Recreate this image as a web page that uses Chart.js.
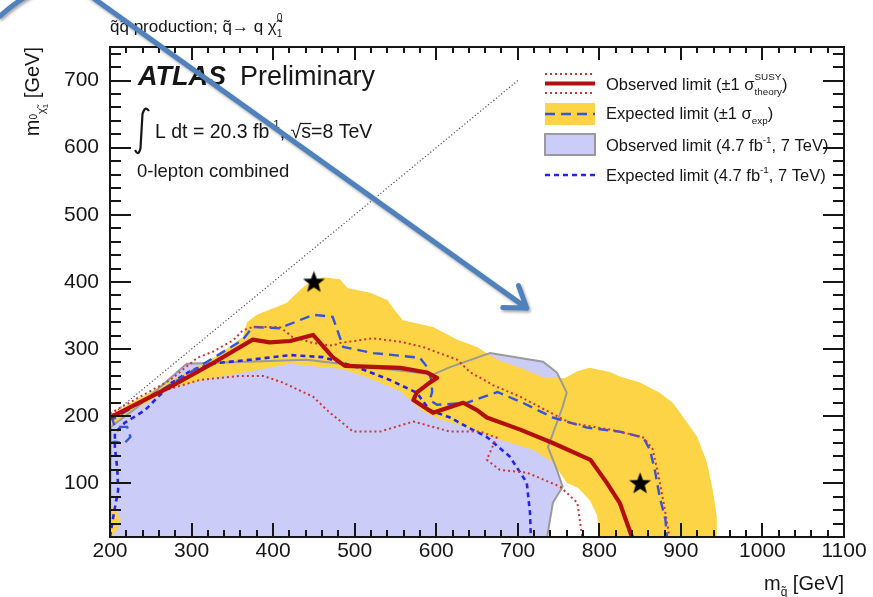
<!DOCTYPE html>
<html>
<head>
<meta charset="utf-8">
<script src="https://cdn.jsdelivr.net/npm/chart.js@4.4.0/dist/chart.umd.min.js"></script>
<style>
  html, body { margin: 0; padding: 0; background: #fff; }
  canvas { display: block; }
</style>
</head>
<body>
<canvas id="c" width="873" height="597"></canvas>
<script>
// Squark-pair production, q~ -> q chi0_1 : exclusion contours in the (m_squark, m_chi) plane, GeV.

// Axis ticks
const xTickVals = [200, 300, 400, 500, 600, 700, 800, 900, 1000, 1100];
const yTickVals = [100, 200, 300, 400, 500, 600, 700];
const xMinorStep = 20;
const yMinorStep = 20;

// Observed limit, 4.7 fb-1 at 7 TeV (excluded area)
const obs7X = [736, 743, 755, 748, 737, 755, 760, 748, 731, 666, 617, 596, 441, 294, 234, 201, 200];
const obs7Y = [20, 71, 95, 120, 154, 214, 235, 265, 281, 294, 273, 262, 284, 278, 214, 184, 20];

// Expected limit, 4.7 fb-1 at 7 TeV
const exp7X = [200, 204, 210, 209, 206, 206, 218, 243, 276, 301, 329, 372, 421, 461, 503, 543, 576, 592, 617, 638, 662, 690, 711, 715, 716];
const exp7Y = [20, 50, 90, 120, 154, 175, 190, 209, 250, 269, 279, 284, 291, 288, 273, 254, 235, 209, 198, 184, 169, 140, 101, 56, 20];

// Expected limit +-1 sigma_exp band (upper edge, then lower edge back)
const bandX = [200, 276, 329, 363, 368, 380, 417, 433, 445, 461, 482, 491, 519, 540, 549, 559, 596, 626, 650, 675, 703, 733, 758, 773, 788, 813, 825, 850, 874, 890, 905, 920, 932, 939, 944, 944,
               801, 797, 788, 774, 760, 743, 719, 678, 638, 605, 584, 556, 523, 486, 461, 421, 372, 313, 276, 234, 202, 202, 200];
const bandY = [202, 254, 288, 318, 340, 351, 369, 388, 400, 407, 404, 391, 384, 373, 358, 343, 333, 314, 303, 284, 272, 257, 257, 267, 272, 266, 259, 250, 235, 220, 195, 169, 131, 90, 50, 20,
               20, 53, 75, 93, 101, 131, 150, 165, 183, 195, 207, 237, 254, 270, 273, 278, 267, 254, 242, 212, 184, 157, 157];
// small piece of the band at low neutralino mass
const bandLowX = [200, 203, 209, 213, 209, 203, 200];
const bandLowY = [68, 65, 56, 46, 31, 23, 20];

// Expected limit, 20.3 fb-1 at 8 TeV
const exp8X = [200, 206, 218, 225, 221, 206, 203, 270, 323, 363, 375, 408, 449, 473, 486, 523, 580, 589, 594, 595, 592, 601, 638, 675, 706, 743, 785, 825, 854, 862, 868, 874, 881, 883];
const exp8Y = [160, 162, 160, 169, 184, 184, 195, 244, 284, 314, 333, 331, 351, 348, 303, 294, 287, 273, 254, 236, 224, 217, 220, 236, 220, 198, 183, 177, 168, 150, 120, 80, 46, 20];

// Observed limit, 20.3 fb-1 at 8 TeV
const obs8X = [200, 276, 329, 375, 396, 421, 449, 473, 488, 556, 589, 601, 592, 576, 572, 596, 633, 650, 662, 703, 743, 789, 809, 825, 840];
const obs8Y = [198, 245, 281, 314, 310, 312, 321, 288, 275, 272, 265, 257, 250, 235, 224, 205, 220, 209, 198, 180, 160, 135, 101, 71, 20];

// Observed limit +1 sigma_theory and -1 sigma_theory
const thUpX = [200, 274, 307, 326, 351, 363, 375, 408, 424, 449, 473, 482, 522, 556, 584, 626, 641, 670, 703, 764, 813, 853, 865, 872, 879, 886];
const thUpY = [204, 254, 287, 296, 313, 328, 333, 333, 318, 309, 305, 309, 316, 311, 303, 284, 266, 246, 229, 190, 180, 169, 152, 115, 70, 20];
const thDnX = [200, 261, 310, 359, 388, 412, 449, 466, 498, 531, 572, 617, 654, 674, 662, 678, 711, 752, 773, 779];
const thDnY = [198, 236, 254, 260, 260, 250, 229, 209, 177, 177, 192, 177, 177, 168, 135, 120, 116, 95, 71, 20];

// Kinematic boundary m_chi = m_squark
const diagX = [200, 700];
const diagY = [200, 700];

// Benchmark points
const starX = [450, 850];
const starY = [400, 100];

// Call-out arrow, in axis units (tail curve starts left of the frame)
const arrowTail = { x: 65, y: 796 };
const arrowC1 = { x: 96, y: 830 };
const arrowC2 = { x: 139, y: 863 };
const arrowBend = { x: 184, y: 819 };
const arrowTip = { x: 711, y: 361 };

const FAMILY = '"Liberation Sans", Arial, Helvetica, sans-serif';
const INK = '#161616';

const COL = {
  lavender: '#ccccf8',
  yellow: '#fdd445',
  gray: '#9a9a9a',
  obs: '#b30f0f',
  theory: '#cf3434',
  exp: '#3355dd',
  exp7: '#2424ee',
  arrow: '#4f81bd'
};

const pts = (xs, ys) => xs.map((x, i) => ({ x: x, y: ys[i] }));

function makeStar(r) {
  const s = Math.ceil(r * 2 + 2);
  const c = document.createElement('canvas');
  c.width = s; c.height = s;
  const g = c.getContext('2d');
  g.fillStyle = '#000';
  g.beginPath();
  for (let i = 0; i < 10; i++) {
    const a = -Math.PI / 2 + i * Math.PI / 5;
    const rr = (i % 2) ? r * 0.42 : r;
    g.lineTo(s / 2 + rr * Math.cos(a), s / 2 + rr * Math.sin(a) + r * 0.05);
  }
  g.closePath();
  g.fill();
  return c;
}
const starImg = makeStar(11.5);

const base = { pointRadius: 0, pointHitRadius: 0, tension: 0, fill: false };

const datasets = [
  Object.assign({}, base, { label: 'obs7 area', data: pts(obs7X, obs7Y), fill: 'shape', backgroundColor: COL.lavender, borderColor: 'rgba(0,0,0,0)', borderWidth: 0, order: 20 }),
  Object.assign({}, base, { label: 'band', data: pts(bandX, bandY), fill: 'shape', backgroundColor: COL.yellow, borderColor: 'rgba(0,0,0,0)', borderWidth: 0, order: 19 }),
  Object.assign({}, base, { label: 'band low', data: pts(bandLowX, bandLowY), fill: 'shape', backgroundColor: COL.yellow, borderColor: 'rgba(0,0,0,0)', borderWidth: 0, order: 18 }),
  Object.assign({}, base, { label: 'obs7 line', data: pts(obs7X, obs7Y), borderColor: COL.gray, borderWidth: 2, order: 17 }),
  Object.assign({}, base, { label: 'diag', data: pts(diagX, diagY), borderColor: '#555', borderWidth: 1.2, borderDash: [1.2, 2.2], order: 16 }),
  Object.assign({}, base, { label: 'exp7', data: pts(exp7X, exp7Y), borderColor: COL.exp7, borderWidth: 2.6, borderDash: [5, 4], order: 15 }),
  Object.assign({}, base, { label: 'exp8', data: pts(exp8X, exp8Y), borderColor: COL.exp, borderWidth: 2.4, borderDash: [10, 6], order: 14 }),
  Object.assign({}, base, { label: 'th up', data: pts(thUpX, thUpY), borderColor: COL.theory, borderWidth: 2, borderDash: [2, 3], order: 13 }),
  Object.assign({}, base, { label: 'th dn', data: pts(thDnX, thDnY), borderColor: COL.theory, borderWidth: 2, borderDash: [2, 3], order: 12 }),
  Object.assign({}, base, { label: 'obs8', data: pts(obs8X, obs8Y), borderColor: COL.obs, borderWidth: 4.2, borderJoinStyle: 'round', order: 11 }),
  { label: 'points', data: pts(starX, starY), showLine: false, pointStyle: starImg, pointRadius: 12, pointHitRadius: 0, order: 10 }
];

// Rich text: array of parts {t, s: size factor, dy: shift in em, f: font style, same: stack on previous}
function layout(ctx, parts, size) {
  let x = 0, lastStart = 0, lastW = 0;
  const items = [];
  for (const p0 of parts) {
    const p = (typeof p0 === 'string') ? { t: p0 } : p0;
    const fs = size * (p.s || 1);
    const font = (p.f || '') + ' ' + fs + 'px ' + FAMILY;
    ctx.font = font;
    const w = ctx.measureText(p.t).width;
    let px;
    if (p.same) {
      px = lastStart;
      lastW = Math.max(lastW, w);
      x = lastStart + lastW;
    } else {
      px = x; lastStart = x; lastW = w; x += w;
    }
    items.push({ t: p.t, font: font, x: px, w: w, dy: (p.dy || 0) * size });
  }
  return { items: items, width: x };
}
function drawRich(ctx, x, y, parts, size, opt) {
  opt = opt || {};
  const L = layout(ctx, parts, size);
  ctx.save();
  ctx.translate(x, y);
  if (opt.rot) ctx.rotate(opt.rot);
  const x0 = opt.align === 'right' ? -L.width : 0;
  ctx.fillStyle = opt.color || INK;
  ctx.textBaseline = 'alphabetic';
  ctx.textAlign = 'left';
  for (const it of L.items) {
    ctx.font = it.font;
    ctx.fillText(it.t, x0 + it.x, it.dy);
  }
  ctx.restore();
  return L;
}

const framePlugin = {
  id: 'frame',
  afterDatasetsDraw(chart) {
    const { ctx, chartArea: a, scales: { x, y } } = chart;
    ctx.save();
    ctx.strokeStyle = INK;
    ctx.lineWidth = 2;
    ctx.beginPath();
    for (let v = x.min; v <= x.max; v += xMinorStep) {
      const px = Math.round(x.getPixelForValue(v));
      const major = v % 100 === 0;
      ctx.moveTo(px, a.bottom); ctx.lineTo(px, a.bottom - (major ? 14 : 7));
      ctx.moveTo(px, a.top); ctx.lineTo(px, a.top + (major ? 13 : 6));
    }
    for (let v = y.min; v <= y.max; v += yMinorStep) {
      const py = Math.round(y.getPixelForValue(v));
      const major = v % 100 === 0;
      const l = major ? 21 : 11;
      ctx.moveTo(a.left, py); ctx.lineTo(a.left + l, py);
      ctx.moveTo(a.right, py); ctx.lineTo(a.right - l, py);
    }
    ctx.stroke();
    ctx.strokeRect(a.left, a.top, a.right - a.left, a.bottom - a.top);
    ctx.restore();
  }
};

const annotPlugin = {
  id: 'annot',
  afterDraw(chart) {
    const { ctx, chartArea: a, scales: { x, y } } = chart;
    ctx.save();

    // Title above the frame
    drawRich(ctx, a.left, 32, ['q\u0303q\u0303 production; q\u0303\u2192 q \u03c7\u0303',
      { t: '0', s: 0.6, dy: -0.62 }, { t: '1', s: 0.6, dy: 0.3, same: true }], 17);

    // ATLAS label
    ctx.fillStyle = INK;
    ctx.font = 'italic bold 27px ' + FAMILY;
    ctx.fillText('ATLAS', 138, 85);
    ctx.font = '27px ' + FAMILY;
    ctx.fillText('Preliminary', 240, 85);

    // Integral sign
    ctx.strokeStyle = INK;
    ctx.lineWidth = 2.2;
    ctx.beginPath();
    ctx.moveTo(149, 111);
    ctx.quadraticCurveTo(145, 105, 142.5, 114);
    ctx.lineTo(140.5, 148);
    ctx.quadraticCurveTo(138.5, 157, 135, 150);
    ctx.stroke();

    const lumi = drawRich(ctx, 155, 138, ['L dt = 20.3 fb', { t: '-1', s: 0.6, dy: -0.5 }, ', \u221a', 's=8 TeV'], 19.5);
    // overline of the square root
    const sq = lumi.items[2];
    const sItem = lumi.items[3];
    ctx.lineWidth = 1.2;
    ctx.beginPath();
    ctx.moveTo(155 + sq.x + sq.w - 1, 123.5);
    ctx.lineTo(155 + sItem.x + 10, 123.5);
    ctx.stroke();

    ctx.font = '18.5px ' + FAMILY;
    ctx.fillStyle = INK;
    ctx.fillText('0-lepton combined', 137, 177);

    // Legend
    const sx0 = 545, sx1 = 595, tx = 606;
    ctx.lineCap = 'butt';
    // observed +- theory
    ctx.strokeStyle = COL.theory; ctx.lineWidth = 2; ctx.setLineDash([2, 3]);
    ctx.beginPath(); ctx.moveTo(sx0, 74); ctx.lineTo(sx1, 74); ctx.moveTo(sx0, 93); ctx.lineTo(sx1, 93); ctx.stroke();
    ctx.setLineDash([]);
    ctx.strokeStyle = COL.obs; ctx.lineWidth = 4.2;
    ctx.beginPath(); ctx.moveTo(sx0, 83.5); ctx.lineTo(sx1, 83.5); ctx.stroke();
    // expected band
    ctx.fillStyle = COL.yellow; ctx.fillRect(sx0, 103, sx1 - sx0, 22);
    ctx.strokeStyle = COL.exp; ctx.lineWidth = 2.4; ctx.setLineDash([10, 6]);
    ctx.beginPath(); ctx.moveTo(sx0, 114); ctx.lineTo(sx1, 114); ctx.stroke();
    ctx.setLineDash([]);
    // 7 TeV observed
    ctx.fillStyle = COL.lavender; ctx.fillRect(sx0, 134, sx1 - sx0, 21);
    ctx.strokeStyle = COL.gray; ctx.lineWidth = 2; ctx.strokeRect(sx0, 134, sx1 - sx0, 21);
    // 7 TeV expected
    ctx.strokeStyle = COL.exp7; ctx.lineWidth = 2.6; ctx.setLineDash([5, 4]);
    ctx.beginPath(); ctx.moveTo(sx0, 175); ctx.lineTo(sx1, 175); ctx.stroke();
    ctx.setLineDash([]);

    const LS = 16.5;
    drawRich(ctx, tx, 90, ['Observed limit (\u00b11 \u03c3', { t: 'SUSY', s: 0.6, dy: -0.62 }, { t: 'theory', s: 0.6, dy: 0.32, same: true }, ')'], LS);
    drawRich(ctx, tx, 119, ['Expected limit (\u00b11 \u03c3', { t: 'exp', s: 0.6, dy: 0.32 }, ')'], LS);
    drawRich(ctx, tx, 151, ['Observed limit (4.7 fb', { t: '-1', s: 0.6, dy: -0.5 }, ', 7 TeV)'], LS);
    drawRich(ctx, tx, 181, ['Expected limit (4.7 fb', { t: '-1', s: 0.6, dy: -0.5 }, ', 7 TeV)'], LS);

    // Axis titles
    drawRich(ctx, a.right, 590, ['m', { t: 'q\u0303', s: 0.6, dy: 0.32 }, ' [GeV]'], 20, { align: 'right' });
    drawRich(ctx, 39, a.top, ['m', { t: '0', s: 0.5, dy: -0.12 }, { t: '\u03c7\u0303', s: 0.55, dy: 0.3 }, { t: '1', s: 0.4, dy: 0.45 }, ' [GeV]'], 20, { align: 'right', rot: -Math.PI / 2 });

    // Call-out arrow
    const P = (p) => ({ x: x.getPixelForValue(p.x), y: y.getPixelForValue(p.y) });
    const t0 = P(arrowTail), c1 = P(arrowC1), c2 = P(arrowC2), b = P(arrowBend), tip = P(arrowTip);
    ctx.shadowColor = 'rgba(0,0,0,0.35)';
    ctx.shadowBlur = 3;
    ctx.shadowOffsetX = 1.5;
    ctx.shadowOffsetY = 2;
    ctx.strokeStyle = COL.arrow;
    ctx.lineWidth = 5;
    ctx.lineCap = 'round';
    ctx.lineJoin = 'round';
    ctx.beginPath();
    ctx.moveTo(t0.x, t0.y);
    ctx.bezierCurveTo(c1.x, c1.y, c2.x, c2.y, b.x, b.y);
    ctx.lineTo(tip.x, tip.y);
    const ang = Math.atan2(tip.y - b.y, tip.x - b.x);
    const wl = 24, spread = 0.6;
    ctx.moveTo(tip.x + wl * Math.cos(ang + Math.PI - spread), tip.y + wl * Math.sin(ang + Math.PI - spread));
    ctx.lineTo(tip.x, tip.y);
    ctx.lineTo(tip.x + wl * Math.cos(ang + Math.PI + spread), tip.y + wl * Math.sin(ang + Math.PI + spread));
    ctx.stroke();

    ctx.restore();
  }
};

new Chart(document.getElementById('c').getContext('2d'), {
  type: 'line',
  data: { datasets: datasets },
  options: {
    responsive: false,
    animation: false,
    devicePixelRatio: 1,
    events: [],
    layout: { padding: { left: 0, top: 47, right: 29, bottom: 0 } },
    plugins: { legend: { display: false }, tooltip: { enabled: false } },
    scales: {
      x: {
        type: 'linear', min: 200, max: 1100,
        grid: { display: false, drawTicks: false },
        border: { display: false },
        afterBuildTicks: (s) => { s.ticks = xTickVals.map(v => ({ value: v })); },
        afterFit: (s) => { s.height = 60; },
        ticks: { color: INK, font: { family: FAMILY, size: 21 }, padding: 2, maxRotation: 0, autoSkip: false, callback: (v) => String(v) }
      },
      y: {
        type: 'linear', min: 20, max: 750,
        grid: { display: false, drawTicks: false },
        border: { display: false },
        afterBuildTicks: (s) => { s.ticks = yTickVals.map(v => ({ value: v })); },
        afterFit: (s) => { s.width = 110; },
        ticks: { color: INK, font: { family: FAMILY, size: 21 }, padding: 11, autoSkip: false, callback: (v) => String(v) }
      }
    }
  },
  plugins: [framePlugin, annotPlugin]
});
</script>
</body>
</html>
